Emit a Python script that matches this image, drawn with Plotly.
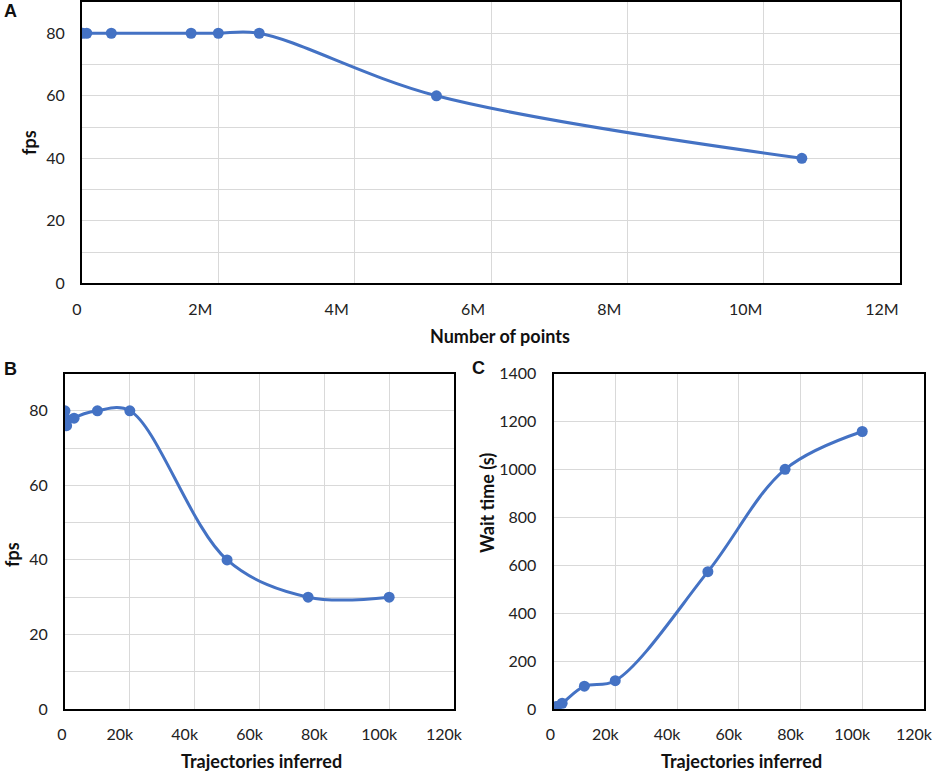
import plotly.graph_objects as go

# A: number of points vs fps
points_a = [10000, 70000, 430000, 1600000, 2000000, 2600000, 5200000, 10560000]
fps_a = [80, 80, 80, 80, 80, 80, 60, 40]

# B: trajectories inferred vs fps
traj_b = [0, 100, 200, 500, 2800, 10000, 20000, 50000, 75000, 100000]
fps_b = [80, 78, 77, 76, 78, 80, 80, 40, 30, 30]

# C: trajectories inferred vs wait time
traj_c = [0, 1000, 2800, 10000, 20000, 50000, 75000, 100000]
wait_c = [3, 10, 24, 95, 118, 573, 1000, 1158]

m_ticks = [0, 2000000, 4000000, 6000000, 8000000, 10000000, 12000000]
m_labels = ['0', '2M', '4M', '6M', '8M', '10M', '12M']
k_ticks = [0, 20000, 40000, 60000, 80000, 100000, 120000]
k_labels = ['0', '20k', '40k', '60k', '80k', '100k', '120k']

BLUE = '#4472C4'
FONT = 'Lato, Open Sans, sans-serif'

# excel puts the labels a bit left of their gridline, except the "0";
# shift them all and pad the "0" back into place
def padded(labels, pad):
    return [pad + t if t == '0' else t for t in labels]

line = dict(color=BLUE, width=3, shape='spline', smoothing=1)
marker = dict(color=BLUE, size=11)

fig = go.Figure()
fig.add_trace(go.Scatter(x=points_a, y=fps_a, mode='lines+markers', line=line,
                         marker=marker, xaxis='x', yaxis='y'))
fig.add_trace(go.Scatter(x=traj_b, y=fps_b, mode='lines+markers', line=line,
                         marker=marker, xaxis='x2', yaxis='y2'))
fig.add_trace(go.Scatter(x=traj_c, y=wait_c, mode='lines+markers', line=line,
                         marker=marker, xaxis='x3', yaxis='y3'))

ax = dict(showline=True, linecolor='black', linewidth=2, mirror=True,
          showgrid=True, gridcolor='#d9d9d9', gridwidth=1.3, zeroline=False,
          ticks='', tickfont=dict(family=FONT, size=16, color='#222'),
          ticklabeloverflow='allow', automargin=False, fixedrange=True)

fig.update_layout(
    width=934, height=773,
    margin=dict(l=0, r=0, t=0, b=0),
    paper_bgcolor='white', plot_bgcolor='white',
    showlegend=False,
    font=dict(family=FONT, color='#222'),
    xaxis=dict(ax, domain=[82 / 934, 900 / 934], range=[0, 12000000],
               tickvals=m_ticks, ticktext=padded(m_labels, '\u2003\u2003\u2009'),
               ticklabelshift=-18, anchor='y', ticklabelstandoff=10),
    yaxis=dict(ax, domain=[1 - 283.3 / 773, 1 - 2 / 773], range=[0, 90],
               tickvals=[0, 20, 40, 60, 80],
               minor=dict(dtick=10, showgrid=True, gridcolor='#d9d9d9', gridwidth=1.3),
               anchor='x', ticklabelstandoff=12),
    xaxis2=dict(ax, domain=[65 / 934, 454 / 934], range=[0, 120000],
                tickvals=k_ticks, ticktext=padded(k_labels, '\u2003\u2009'),
                ticklabelshift=-10, anchor='y2', ticklabelstandoff=10),
    yaxis2=dict(ax, domain=[1 - 709 / 773, 1 - 373.5 / 773], range=[0, 90],
                tickvals=[0, 20, 40, 60, 80],
                minor=dict(dtick=10, showgrid=True, gridcolor='#d9d9d9', gridwidth=1.3),
                anchor='x2', ticklabelstandoff=12),
    xaxis3=dict(ax, domain=[553.5 / 934, 924 / 934], range=[0, 120000],
                tickvals=k_ticks, ticktext=padded(k_labels, '\u2003\u2009'),
                ticklabelshift=-10, anchor='y3', ticklabelstandoff=10),
    yaxis3=dict(ax, domain=[1 - 709 / 773, 1 - 373.5 / 773], range=[0, 1400],
                dtick=200, anchor='x3', ticklabelstandoff=12),
)

# axis titles and panel letters
titles = [
    ('Number of points', 500, 336, 0),
    ('fps', 29, 143, -90),
    ('fps', 12, 555, -90),
    ('Trajectories inferred', 261, 761, 0),
    ('Wait time (s)', 487, 503, -90),
    ('Trajectories inferred', 741, 761, 0),
]
for txt, px, py, ang in titles:
    fig.add_annotation(text='<b>%s</b>' % txt, x=px / 934, y=1 - py / 773,
                       xref='paper', yref='paper', showarrow=False, textangle=ang,
                       font=dict(family=FONT, size=18, color='#111'),
                       xanchor='center', yanchor='middle')

for txt, px, py in [('A', 10, 11), ('B', 10, 369), ('C', 478, 368)]:
    fig.add_annotation(text='<b>%s</b>' % txt, x=px / 934, y=1 - py / 773,
                       xref='paper', yref='paper', showarrow=False,
                       font=dict(family='Liberation Sans, Arial, sans-serif', size=18, color='#111'),
                       xanchor='center', yanchor='middle')

# page has a default 8px body margin; drop it so the figure fills the window
fig.write_html('out.html', config={'displayModeBar': False},
               post_script="document.body.style.margin='0px';")
